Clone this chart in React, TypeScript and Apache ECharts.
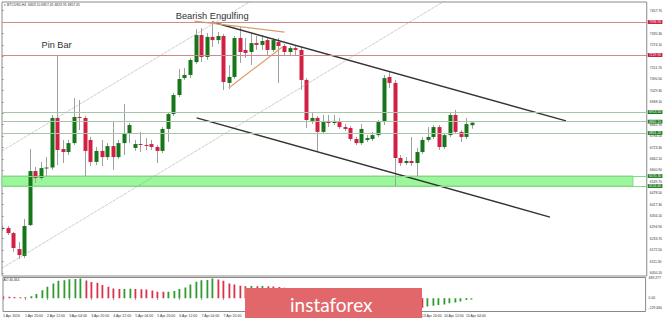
import React, { useEffect, useRef } from "react";
import * as echarts from "echarts";

// ---- tick labels ----
const xTickLabels = [
  "1 Apr 2020", "1 Apr 20:00", "2 Apr 12:00", "3 Apr 04:00", "3 Apr 20:00", "4 Apr 12:00",
  "5 Apr 04:00", "5 Apr 20:00", "6 Apr 12:00", "7 Apr 04:00", "7 Apr 20:00", "8 Apr 12:00",
  "9 Apr 04:00", "9 Apr 20:00", "10 Apr 12:00", "11 Apr 04:00", "11 Apr 20:00", "12 Apr 12:00",
  "13 Apr 04:00", "13 Apr 20:00", "14 Apr 12:00", "15 Apr 04:00",
];
const xTickIndex = [0, 4, 8, 12, 16, 20, 24, 28, 32, 36, 40, 44, 48, 52, 56, 60, 64, 68, 72, 76, 80, 84];
// bar-index span covered by the watermark (labels there are hidden in the source)
const hiddenTickSpan = [44, 72];
const priceTicks = [
  6050.1, 6111.3, 6172.5, 6233.7, 6294.9, 6356.1, 6417.3, 6478.5, 6539.7, 6600.9, 6662.1, 6723.3,
  6784.5, 6845.7, 6906.9, 6968.1, 7029.3, 7090.5, 7151.7, 7212.9, 7274.1, 7335.3, 7396.5, 7457.7,
];
const aoTicks = [-229.46, 0, 489.277];

// ---- BTCUSD H4 candles ----
const openP = [
  6286, 6291, 6264, 6178, 6141, 6307, 6597, 6560, 6613, 6616,
  6882, 6715, 6699, 6747, 6887, 6882, 6764, 6646, 6705, 6672,
  6731, 6672, 6747, 6796, 6721, 6742, 6737, 6742, 6726, 6705,
  6823, 6903, 7005, 7096, 7113, 7182, 7327, 7209, 7317, 7300,
  7322, 7070, 7102, 7311, 7247, 7236, 7284, 7274, 7300, 7247,
  7290, 7268, 7236, 7257, 7247, 7086, 6866, 6882, 6807, 6866,
  6855, 6860, 6833, 6828, 6769, 6747, 6764, 6769, 6790, 6860,
  7102, 7070, 6667, 6640, 6651, 6640, 6699, 6764, 6780, 6833,
  6726, 6790, 6898, 6807, 6780, 6843,
];
const closeP = [
  6291, 6264, 6184, 6146, 6302, 6597, 6560, 6613, 6616, 6882,
  6710, 6699, 6747, 6887, 6882, 6705, 6646, 6705, 6672, 6731,
  6672, 6747, 6796, 6844, 6742, 6739, 6736, 6726, 6705, 6823,
  6903, 7005, 7091, 7113, 7193, 7327, 7209, 7317, 7300, 7322,
  7075, 7102, 7311, 7236, 7231, 7284, 7274, 7295, 7247, 7300,
  7268, 7236, 7257, 7247, 7086, 6871, 6882, 6807, 6860, 6855,
  6866, 6833, 6823, 6769, 6747, 6823, 6774, 6790, 6860, 7096,
  7070, 6667, 6640, 6651, 6640, 6699, 6764, 6780, 6833, 6726,
  6790, 6898, 6807, 6780, 6849, 6857,
];
const lowP = [
  6275, 6254, 6162, 6125, 6130, 6302, 6533, 6549, 6565, 6603,
  6629, 6640, 6683, 6737, 6817, 6565, 6624, 6629, 6624, 6656,
  6603, 6662, 6683, 6747, 6705, 6699, 6710, 6710, 6640, 6694,
  6753, 6892, 6994, 7086, 7096, 7172, 7182, 7193, 7263, 7279,
  7032, 7037, 7091, 7177, 7204, 7166, 7247, 7247, 7220, 7236,
  7070, 7215, 7220, 7215, 7032, 6828, 6849, 6699, 6796, 6833,
  6844, 6823, 6812, 6758, 6737, 6737, 6753, 6758, 6780, 6844,
  7043, 6511, 6624, 6629, 6624, 6565, 6688, 6753, 6769, 6710,
  6715, 6780, 6796, 6753, 6769, 6824,
];
const highP = [
  6307, 6302, 6270, 6216, 6340, 6715, 6619, 6646, 6672, 6898,
  7220, 6764, 6764, 6989, 6978, 6892, 6780, 6726, 6764, 6747,
  6866, 6764, 6957, 6855, 6764, 6807, 6774, 6764, 6737, 6833,
  6914, 7016, 7145, 7150, 7204, 7359, 7365, 7338, 7397, 7343,
  7333, 7166, 7322, 7370, 7311, 7338, 7322, 7327, 7311, 7311,
  7311, 7279, 7268, 7268, 7263, 7096, 6909, 6892, 6898, 6898,
  6898, 6882, 6849, 6839, 6780, 6849, 6790, 6807, 6871, 7113,
  7129, 7086, 6683, 6672, 6780, 6721, 6780, 6833, 6844, 6844,
  6801, 6909, 6925, 6817, 6882, 6857,
];

// ---- Awesome Oscillator ----
const aoValues = [
  45, 40, 35, 30, 25, 50, 110, 200, 285, 367,
  432, 448, 473, 475, 489, 440, 400, 383, 326, 285,
  245, 228, 232, 236, 230, 222, 218, 196, 163, 160,
  165, 180, 228, 269, 342, 407, 448, 452, 489, 465,
  432, 367, 342, 310, 300, 305, 298, 301, 295, 290,
  282, 262, 250, 235, 215, 150, 80, 10, -50, -100,
  -140, -180, -215, -250, -280, -290, -300, -295, -280, -240,
  -200, -210, -225, -240, -250, -225, -228, -200, -180, -165,
  -150, -120, -100, -80, -40, -25,
];

// ---- levels & drawn lines (price / bar-index units) ----
const redLevels = [7396.9, 7219.9];
const greenLevels = [6913.5, 6862.1, 6801.2];
const supportZone = [6570.3, 6516.6];
const supportZoneEnd = 114.1;
const channelUpper = [[38, 7397], [102, 6866]];
const channelLower = [[35.2, 6882], [99.1, 6350]];
const dottedUpper = [[0, 6705], [46, 7527]];
const dottedLower = [[0, 6076], [80.3, 7515]];
const engulfTop = [[34.8, 7402], [51.1, 7343]];
const engulfDiag = [[41.0, 7043], [50.7, 7263]];

const GREEN = "#17761a";
const RED = "#d21f44";
const FONT = "'Liberation Sans', Arial, sans-serif";

export default function App() {
  const ref = useRef<HTMLDivElement>(null);

  useEffect(() => {
    document.body.style.margin = "0";
    const chart = echarts.init(ref.current!, null, { renderer: "svg" });

    const candleData = openP.map((o, i) => [i, o, closeP[i], lowP[i], highP[i]]);
    const aoData = aoValues.map((v, i) => [i, v, i === 0 || v < aoValues[i - 1] ? 0 : 1]);
    const visibleTicks = xTickIndex.filter((v) => v < hiddenTickSpan[0] || v > hiddenTickSpan[1]);

    const tag = (value: number, line: string, bg: string) => ({
      yAxis: value,
      lineStyle: { color: line, width: 1, type: "solid" },
      label: {
        show: true,
        position: "end",
        distance: 1,
        formatter: () => value.toFixed(2),
        color: "#fff",
        backgroundColor: bg,
        padding: [0.6, 1.2, 0.2, 1.2],
        fontSize: 3.4,
        fontFamily: FONT,
      },
    });

    const lineSeries = (data: number[][], color: string, width: number, type: string, z = 4) => ({
      type: "line",
      xAxisIndex: 0,
      yAxisIndex: 0,
      data,
      symbol: "none",
      silent: true,
      clip: true,
      z,
      lineStyle: { color, width, type },
    });

    const option: any = {
      animation: false,
      backgroundColor: "#ffffff",
      textStyle: { fontFamily: FONT },
      grid: [
        { left: 2, top: 2, width: 646, height: 274, show: true, borderColor: "#8a8a8a", borderWidth: 1, backgroundColor: "transparent" },
        { left: 2, top: 277.5, width: 646, height: 34, show: true, borderColor: "#8a8a8a", borderWidth: 1, backgroundColor: "transparent" },
      ],
      xAxis: [
        { type: "value", gridIndex: 0, min: 0, max: 116.6, show: false },
        {
          type: "value", gridIndex: 1, min: 0, max: 116.6,
          axisLine: { show: false },
          splitLine: { show: false },
          axisTick: { show: true, length: 1.5, customValues: xTickIndex, lineStyle: { color: "#888" } },
          axisLabel: {
            customValues: visibleTicks,
            formatter: (v: number) => xTickLabels[Math.round(v / 4)] ?? "",
            align: "left",
            fontSize: 3.5,
            color: "#333",
            margin: 2,
          },
        },
      ],
      yAxis: [
        {
          type: "value", gridIndex: 0, position: "right", min: 6033.6, max: 7504.4,
          axisLine: { show: false },
          splitLine: { show: false },
          axisTick: { show: true, length: 1.5, customValues: priceTicks, lineStyle: { color: "#888" } },
          axisLabel: {
            customValues: priceTicks,
            formatter: (v: number) => v.toFixed(2),
            fontSize: 3.4,
            color: "#333",
            margin: 3,
          },
        },
        {
          type: "value", gridIndex: 1, position: "right", min: -323, max: 513,
          axisLine: { show: false },
          splitLine: { show: false },
          axisTick: { show: false },
          axisLabel: {
            customValues: aoTicks,
            formatter: (v: number) => (v === 0 ? "0.00" : v.toFixed(3)),
            fontSize: 3.4,
            color: "#333",
            margin: 3,
          },
        },
      ],
      series: [
        {
          type: "custom",
          name: "BTCUSD",
          xAxisIndex: 0,
          yAxisIndex: 0,
          data: candleData,
          encode: { x: 0, y: [1, 2, 3, 4] },
          clip: true,
          z: 2,
          renderItem: (_p: any, api: any) => {
            const i = api.value(0);
            const o = api.value(1), c = api.value(2), l = api.value(3), h = api.value(4);
            const pO = api.coord([i, o]);
            const pC = api.coord([i, c]);
            const pL = api.coord([i, l]);
            const pH = api.coord([i, h]);
            const x = Math.round(pO[0]) + 0.5;
            const bw = 4;
            const top = Math.min(pO[1], pC[1]);
            const bh = Math.max(Math.abs(pO[1] - pC[1]), 1);
            return {
              type: "group",
              children: [
                { type: "line", shape: { x1: x, y1: pH[1], x2: x, y2: pL[1] }, style: { stroke: "#a0a0a0", lineWidth: 1 } },
                { type: "rect", shape: { x: x - bw / 2, y: top, width: bw, height: bh }, style: { fill: c >= o ? GREEN : RED } },
              ],
            };
          },
        },
        {
          type: "custom",
          name: "AO",
          xAxisIndex: 1,
          yAxisIndex: 1,
          data: aoData,
          encode: { x: 0, y: 1 },
          clip: true,
          renderItem: (_p: any, api: any) => {
            const i = api.value(0);
            const v = api.value(1);
            const up = api.value(2) === 1;
            const p0 = api.coord([i, 0]);
            const p1 = api.coord([i, v]);
            const x = Math.round(p0[0]);
            return {
              type: "rect",
              shape: { x: x - 0.5, y: Math.min(p0[1], p1[1]), width: 1.8, height: Math.max(Math.abs(p1[1] - p0[1]), 0.9) },
              style: { fill: up ? "#2f9a2f" : "#d8334a" },
            };
          },
        },
        {
          ...lineSeries(dottedUpper, "#9a9a9a", 0.8, "dotted", 3),
          markArea: {
            silent: true,
            itemStyle: { color: "#9cf79c", borderColor: "#84d884", borderWidth: 1 },
            data: [[{ xAxis: 0, yAxis: supportZone[0] }, { xAxis: supportZoneEnd, yAxis: supportZone[1] }]],
          },
          markLine: {
            silent: true,
            symbol: ["none", "none"],
            data: [
              ...redLevels.map((v) => tag(v, "#cc8c8c", "#c8143a")),
              ...greenLevels.map((v) => tag(v, "#a6c6a6", "#1d7a1d")),
              ...supportZone.map((v) => tag(v, "#84d884", "#1d7a1d")),
            ],
          },
        },
        lineSeries(dottedLower, "#9a9a9a", 0.8, "dotted", 3),
        lineSeries(channelUpper, "#333333", 1.4, "solid"),
        lineSeries(channelLower, "#333333", 1.4, "solid"),
        lineSeries(engulfTop, "#d6a06c", 1.2, "solid"),
        lineSeries(engulfDiag, "#d6a06c", 1.2, "solid"),
      ],
      graphic: [
        { type: "text", x: 4, y: 4.5, z: 50, style: { text: "▾ BTCUSD,H4  6843.10 6857.45 6823.95 6857.45", fontSize: 3.4, fontFamily: FONT, fill: "#333", textVerticalAlign: "middle" } },
        { type: "text", x: 175.7, y: 15.8, z: 50, style: { text: "Bearish Engulfing", fontSize: 9.3, fontFamily: FONT, fill: "#333", textVerticalAlign: "middle" } },
        { type: "text", x: 41.5, y: 45, z: 50, style: { text: "Pin Bar", fontSize: 9.2, fontFamily: FONT, fill: "#333", textVerticalAlign: "middle" } },
        { type: "text", x: 3.5, y: 280, z: 50, style: { text: "AO 46.464", fontSize: 3.3, fontFamily: FONT, fill: "#333", textVerticalAlign: "middle" } },
        { type: "rect", z: 100, shape: { x: 245, y: 288, width: 177, height: 30 }, style: { fill: "#e1676b" } },
        { type: "text", x: 290, y: 304, z: 101, style: { text: "instaforex", fontSize: 19, fontFamily: "Lato, 'Open Sans', sans-serif", fill: "#ffffff", textVerticalAlign: "middle" } },
      ],
    };

    chart.setOption(option);
    return () => chart.dispose();
  }, []);

  return <div ref={ref} style={{ position: "absolute", left: 0, top: 0, width: 665, height: 320 }} />;
}
